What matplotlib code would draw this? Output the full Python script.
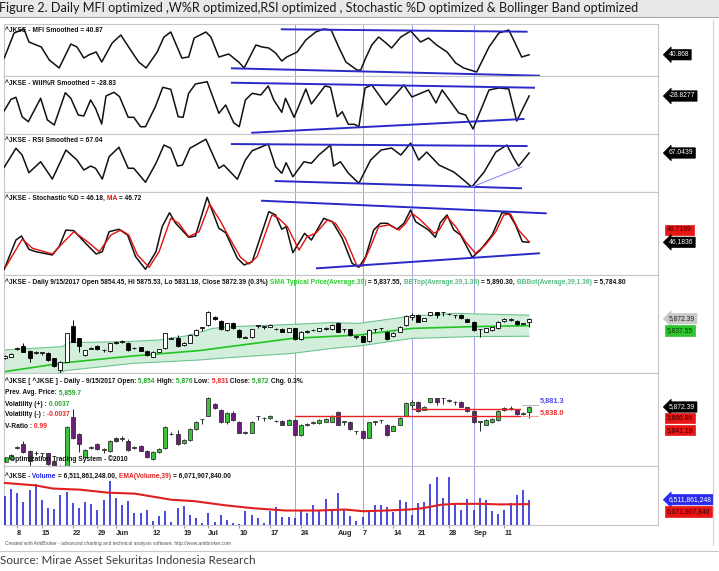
import numpy as np
import matplotlib
matplotlib.use("Agg")
import matplotlib.pyplot as plt
from matplotlib.patches import Rectangle

# ---------------- data ----------------
bar_idx = np.arange(2, 88)   # trading days, 4 May .. 15 Sep 2017

opens = [5676, 5683, 5722, 5736, 5713, 5703, 5703, 5703, 5674, 5616,
         5658, 5836, 5774, 5691, 5722, 5736, 5716, 5711, 5758, 5757,
         5749, 5724, 5729, 5713, 5683, 5708, 5724, 5773, 5774, 5741,
         5753, 5791, 5828, 5841, 5883, 5863, 5816, 5849, 5816, 5778,
         5779, 5838, 5833, 5833, 5820, 5821, 5808, 5824, 5769, 5807,
         5815, 5813, 5819, 5819, 5853, 5819, 5819, 5783, 5786, 5761,
         5819, 5824, 5808, 5786, 5808, 5841, 5879, 5891, 5863, 5891,
         5904, 5904, 5895, 5891, 5891, 5871, 5858, 5819, 5808, 5816,
         5824, 5861, 5868, 5861, 5848, 5854.45]
highs = [5690, 5699, 5730, 5749, 5716, 5710, 5704, 5705, 5678, 5662,
         5803, 5866, 5778, 5718, 5729, 5740, 5722, 5753, 5762, 5766,
         5755, 5730, 5733, 5716, 5712, 5722, 5803, 5780, 5790, 5756,
         5795, 5820, 5830, 5910, 5886, 5866, 5853, 5858, 5820, 5784,
         5823, 5840, 5835, 5844, 5826, 5824, 5827, 5827, 5812, 5814,
         5822, 5827, 5831, 5844, 5856, 5821, 5822, 5785, 5790, 5819,
         5821, 5826, 5811, 5806, 5836, 5889, 5899, 5894, 5877, 5907,
         5907, 5906, 5900, 5893, 5894, 5874, 5861, 5821, 5827, 5832,
         5861, 5874, 5876, 5864, 5853, 5875.53]
lows = [5672, 5681, 5718, 5705, 5658, 5698, 5690, 5662, 5630, 5608,
        5655, 5755, 5708, 5688, 5720, 5716, 5705, 5708, 5745, 5750,
        5712, 5720, 5710, 5688, 5680, 5705, 5720, 5770, 5732, 5738,
        5750, 5788, 5812, 5838, 5866, 5815, 5812, 5821, 5776, 5774,
        5776, 5825, 5820, 5830, 5817, 5805, 5805, 5768, 5766, 5802,
        5810, 5810, 5816, 5816, 5805, 5808, 5788, 5772, 5755, 5758,
        5808, 5814, 5765, 5783, 5805, 5838, 5866, 5855, 5860, 5888,
        5878, 5885, 5892, 5878, 5871, 5855, 5813, 5783, 5805, 5813,
        5821, 5858, 5862, 5843, 5845, 5831.18]
closes = [5686, 5696, 5725, 5708, 5674, 5705, 5703, 5666, 5636, 5658,
          5799, 5758, 5736, 5716, 5725, 5719, 5718, 5749, 5749, 5759,
          5716, 5725, 5713, 5691, 5708, 5719, 5799, 5775, 5736, 5753,
          5791, 5816, 5828, 5904, 5869, 5819, 5849, 5824, 5779, 5780,
          5819, 5838, 5833, 5841, 5822, 5808, 5824, 5771, 5808, 5809,
          5817, 5824, 5828, 5841, 5808, 5819, 5791, 5783, 5758, 5816,
          5819, 5824, 5769, 5803, 5833, 5886, 5891, 5858, 5874, 5904,
          5891, 5904, 5897, 5891, 5874, 5858, 5816, 5819, 5824, 5829,
          5858, 5869, 5870, 5846, 5850, 5872.39]

# volume, billions of shares
volumes = [6.88, 7.63, 7.19, 6.27, 7.46, 8.07, 6.44, 5.70, 5.60, 7.02,
           7.29, 6.21, 5.70, 6.27, 6.04, 5.53, 6.44, 8.40, 6.71, 5.94,
           6.37, 5.16, 5.16, 5.50, 4.35, 4.85, 5.36, 4.25, 5.70, 5.87,
           4.99, 4.65, 4.14, 5.16, 4.25, 4.99, 4.48, 4.14, 4.08, 5.43,
           4.99, 4.68, 4.14, 5.43, 5.77, 4.82, 4.82, 4.68, 5.36, 5.19,
           6.00, 5.53, 6.61, 5.60, 7.22, 5.50, 4.85, 4.41, 4.75, 5.26,
           5.94, 6.00, 5.83, 5.26, 6.51, 6.27, 5.02, 6.17, 6.27, 8.07,
           8.74, 6.71, 8.81, 6.10, 5.50, 6.61, 5.50, 6.71, 6.44, 5.43,
           5.09, 5.50, 6.21, 7.02, 7.46, 6.5119]
ema_x = [1.8, 6.8, 9.8, 14.2, 18.7, 23.1, 29.0, 32.7, 37.9, 42.3, 47.5,
         52.7, 57.1, 60.1, 63.8, 67.5, 69.7, 72.6, 74.9, 79.3, 82.3, 87.0]
ema_v = [8.20, 7.96, 7.63, 7.52, 7.22, 7.12, 6.51, 6.37, 5.94, 5.66, 5.43,
         5.43, 5.53, 5.36, 5.43, 5.53, 5.66, 6.00, 6.10, 6.10, 6.04, 6.0719]

# bollinger bands (39, 1.36)
bb_up_x = [2, 11.3, 12.4, 21.6, 27, 31.3, 33.5, 35.6, 38.9, 48.6, 55, 59.4, 68, 75, 87]
bb_up_v = [5716, 5733, 5753, 5758, 5766, 5786, 5803, 5824, 5833, 5844, 5853, 5849, 5886, 5899, 5890.30]
bb_lo_x = [2, 11.9, 22.7, 33.5, 38.9, 48.6, 55, 59.4, 68, 78, 87]
bb_lo_v = [5512, 5613, 5649, 5666, 5679, 5699, 5724, 5736, 5774, 5783, 5784.80]
bb_mid_x = [2, 11.9, 22.7, 33.5, 48.6, 59.4, 68, 78, 87]
bb_mid_v = [5608, 5653, 5686, 5713, 5774, 5791, 5824, 5833, 5837.55]

mfi_x = [1.9, 3.5, 5.1, 5.9, 7.9, 9.2, 10.8, 12.7, 13.7, 14.8, 15.6, 16.8, 17.7,
         19.4, 20.8, 22.6, 23.7, 24.9, 26.7, 27.8, 28.9, 30.7, 31.8, 32.7, 34.6,
         35.4, 36.7, 38.3, 39.9, 40.8, 42.7, 43.7, 44.8, 45.9, 46.9, 47.7, 49.4,
         50.8, 52.4, 53.7, 54.9, 56.2, 57.3, 59.1, 59.7, 60.5, 61.5, 62.6, 63.8,
         64.7, 66.2, 67.8, 69.4, 70.7, 72.0, 73.7, 75.1, 76.4, 78.5, 80.5, 82.1,
         83.7, 84.5, 85.8, 87.0]
mfi_v = [34.6, 82.7, 90.4, 65.4, 55.8, 30.8, 15.4, 61.5, 55.8, 34.6, 40.4, 46.2, 26.9,
         63.5, 78.8, 46.2, 26.9, 15.4, 46.2, 75.0, 84.6, 34.6, 36.5, 73.1, 84.6,
         75.0, 36.5, 42.3, 26.9, 15.4, 59.6, 55.8, 53.8, 44.2, 28.8, 36.5, 46.2,
         69.2, 84.6, 90.4, 88.5, 53.8, 26.9, 11.5, 11.5, 34.6, 59.6, 75.0, 63.5,
         53.8, 75.0, 86.5, 65.4, 73.1, 59.6, 46.2, 25.0, 15.4, 7.7, 55.8, 82.7,
         88.5, 69.2, 36.5, 40.87]

wr_x = [1.9, 3.0, 3.8, 4.8, 5.8, 7.8, 8.9, 10.0, 11.8, 12.7, 13.9, 14.8, 15.9,
        16.7, 17.7, 18.4, 19.7, 20.6, 22.0, 22.9, 24.0, 24.8, 26.4, 27.6, 28.9,
        30.1, 30.9, 31.8, 32.9, 34.8, 36.7, 37.8, 39.1, 40.0, 41.0, 42.1, 43.5,
        44.7, 45.6, 46.9, 47.5, 48.9, 50.8, 51.7, 53.9, 54.8, 55.9, 56.7, 57.7,
        58.7, 59.4, 60.4, 61.5, 63.8, 66.7, 68.0, 70.7, 71.9, 72.9, 75.6, 76.7,
        77.9, 80.5, 82.1, 83.7, 85.0, 87.0]
wr_v = [-50.9, -33.8, -30.8, -59.9, -67.4, -32.3, -64.8, -72.3, -23.9, -32.3, -57.3,
        -58.8, -34.8, -47.3, -70.8, -28.8, -23.3, -29.9, -60.8, -60.8, -74.9, -74.9,
        -44.9, -15.8, -18.8, -59.9, -60.8, -24.8, -10.8, -7.4, -54.8, -42.3, -68.9,
        -74.9, -34.8, -24.8, -27.3, -13.8, -34.8, -53.3, -32.3, -60.8, -18.3, -40.8,
        -13.8, -15.8, -59.9, -52.4, -71.3, -71.3, -74.9, -16.8, -12.3, -42.3, -12.3,
        -30.3, -19.8, -39.3, -19.8, -54.3, -57.3, -78.3, -19.8, -16.8, -18.3, -66.3,
        -28.83]

rsi_x = [1.9, 3.8, 4.8, 5.9, 7.8, 9.7, 11.9, 13.7, 14.8, 15.9, 16.7, 17.8, 18.9,
         20.5, 22.0, 22.9, 24.8, 26.5, 27.8, 28.9, 30.0, 30.8, 32.0, 34.6, 36.7,
         37.5, 39.7, 41.0, 42.1, 44.7, 45.9, 46.9, 47.6, 48.7, 50.5, 51.7, 52.9,
         54.8, 55.3, 56.4, 57.7, 59.4, 61.3, 63.0, 64.7, 66.2, 67.8, 69.1, 70.4,
         72.4, 74.8, 76.4, 77.7, 79.7, 81.6, 83.4, 84.5, 85.3, 87.0]
rsi_v = [54.2, 71.3, 65.2, 49.3, 59.2, 43.6, 69.7, 60.7, 51.7, 55.3, 53.3, 43.6, 63.7,
         72.2, 53.3, 53.3, 40.7, 57.8, 74.2, 71.3, 55.3, 56.2, 71.3, 79.4, 53.3,
         56.2, 43.4, 60.7, 69.1, 75.1, 54.7, 48.8, 58.3, 45.7, 59.2, 57.8, 65.2,
         74.2, 55.3, 59.2, 48.8, 39.8, 60.7, 69.7, 71.5, 65.2, 76.0, 60.7, 67.9,
         56.2, 49.9, 42.7, 36.4, 49.9, 67.9, 74.2, 62.5, 55.3, 67.04]

sto_x = [1.9, 3.8, 4.7, 5.9, 7.0, 9.7, 10.8, 11.9, 13.2, 15.1, 16.8, 17.8, 18.9,
         20.5, 21.9, 23.2, 24.8, 26.5, 27.5, 28.7, 29.7, 31.8, 32.9, 34.8, 36.7,
         37.8, 39.7, 40.8, 42.1, 44.8, 45.9, 46.9, 47.6, 48.7, 50.6, 51.7, 53.7,
         55.1, 56.7, 58.3, 59.4, 60.5, 61.8, 62.9, 64.0, 65.6, 66.7, 67.8, 68.6,
         70.7, 71.8, 72.6, 73.7, 74.8, 75.9, 77.8, 79.1, 81.0, 82.6, 83.7, 84.8,
         85.9, 87.0]
sto_v = [14.9, 48.9, 53.5, 38.1, 35.3, 31.5, 41.1, 60.4, 59.6, 45.0, 32.6, 35.3, 58.5,
         61.3, 54.6, 29.5, 14.9, 35.3, 64.3, 80.5, 68.2, 52.0, 53.5, 98.4, 62.4,
         57.3, 27.6, 19.9, 23.7, 81.7, 77.9, 61.3, 64.3, 34.1, 56.6, 48.8, 74.0,
         70.1, 50.8, 21.8, 17.2, 29.5, 60.4, 68.2, 68.2, 61.3, 68.2, 83.7, 70.1,
         60.4, 52.0, 68.9, 77.9, 60.4, 54.6, 28.8, 37.2, 54.6, 80.5, 79.8, 66.3,
         46.9, 46.18]
ma_x = [2.1, 4.8, 6.5, 9.7, 11.6, 13.2, 15.4, 17.3, 19.2, 20.8, 22.1, 23.5, 25.4,
        27.0, 28.9, 30.2, 31.8, 33.5, 35.2, 37.0, 38.3, 40.2, 41.6, 42.9, 45.3,
        46.4, 47.8, 49.7, 51.0, 52.4, 54.3, 55.6, 57.2, 59.1, 59.9, 61.3, 62.6,
        64.3, 65.9, 67.0, 68.0, 69.1, 71.6, 72.4, 73.7, 75.1, 76.7, 78.3, 79.9,
        81.6, 82.9, 84.0, 85.3, 87.0]
ma_v = [17.2, 49.7, 39.2, 32.6, 46.9, 58.5, 46.9, 35.3, 54.6, 60.4, 54.6, 31.4, 17.2,
        35.3, 74.0, 68.2, 52.7, 58.5, 90.6, 70.1, 52.7, 28.8, 21.0, 29.5, 77.9,
        74.0, 64.3, 37.2, 52.7, 56.6, 72.0, 68.2, 50.8, 18.7, 18.7, 41.1, 64.3,
        66.3, 60.4, 68.2, 79.8, 74.0, 56.6, 60.4, 75.9, 64.3, 46.9, 33.4, 43.0,
        58.5, 77.9, 79.0, 60.4, 46.72]

# hand drawn trend lines (x in bars, y in indicator units)
mfi_tl = [([46.9, 86.6], [89.8, 85.2]), ([38.8, 88.6], [14.8, 0.6])]
wr_tl = [([38.8, 87.8], [-8.9, -16.4]), ([42.1, 86.1], [-83.9, -63.3])]
rsi_tl = [([38.8, 86.6], [75.1, 73.3]), ([45.9, 85.7], [41.8, 35.3])]
rsi_thin = ([77.7, 85.8], [36.4, 54.4])
sto_tl = [([43.7, 89.7], [94.4, 79.8]), ([52.6, 88.6], [16.0, 33.4])]

opt_levels = [5866.86, 5841.18]
opt_start = [68, 49]
opt_end = 85.5

vline_idx = [49, 60, 68, 78]
tick_pos = [4, 8, 13, 17, 20, 26, 31, 35, 40, 45, 50, 56, 60, 65, 69, 74, 78, 83]
tick_lbl = ['8', '15', '22', '29', 'Jun', '12', '19', 'Jul', '10', '17', '24',
            'Aug', '7', '14', '21', '28', 'Sep', '11']

# ---------------- layout ----------------
W, H = 719, 571
XMIN, XMAX = 1.86, 107.9
FONT = ['Liberation Sans', 'DejaVu Sans']
HDR = 4.8
TL = '#2a2ac8'

fig = plt.figure(figsize=(W / 100, H / 100), dpi=100)
fig.patch.set_facecolor('white')


def fx(x):
    return x / W


def fy(y):
    return 1 - y / H


def panel(y0, y1, ylim):
    ax = fig.add_axes([fx(4), fy(y1), fx(658 - 4), (y1 - y0) / H])
    ax.set_xlim(XMIN, XMAX)
    ax.set_ylim(*ylim)
    ax.set_xticks([])
    ax.set_yticks([])
    for s in ax.spines.values():
        s.set_color('#c6c6c6')
        s.set_linewidth(0.8)
    for v in vline_idx:
        ax.axvline(v, color='#a0a0f2', lw=0.7, zorder=1)
    return ax


def tag(ax, val, text, fc, tc, dy=0, arrow=True):
    ax.annotate(text, xy=(1, val), xycoords=ax.get_yaxis_transform(),
                xytext=(11 if arrow else 9, dy), textcoords='offset pixels',
                ha='left', va='center', fontsize=4.9, family=FONT, color=tc,
                bbox=dict(boxstyle=('larrow,pad=0.25' if arrow else 'square,pad=0.25'),
                          fc=fc, ec=fc, lw=0.5),
                annotation_clip=False)


def rich(x, y, parts, size=HDR):
    r = fig.canvas.get_renderer()
    for s, c in parts:
        t = fig.text(fx(x), fy(y), s, color=c, fontsize=size, fontweight='bold',
                     family=FONT, ha='left', va='center')
        x += t.get_window_extent(renderer=r).width


def candles(ax, up_fc, dn_fc, edge, body_ec):
    for i, o, h, l, c in zip(bar_idx, opens, highs, lows, closes):
        ax.vlines(i, l, h, color=edge, lw=0.7, zorder=3)
        b0, b1 = min(o, c), max(o, c)
        ax.add_patch(Rectangle((i - 0.32, b0), 0.64, max(b1 - b0, 0.6),
                               fc=up_fc if c >= o else dn_fc, ec=body_ec,
                               lw=0.6, zorder=4))


# title band
fig.patches.append(Rectangle((0, fy(16.5)), 1, 16.5 / H, transform=fig.transFigure,
                             fc='#e9e9e9', ec='none'))
fig.lines.append(plt.Line2D([0, 1], [fy(16.8)] * 2, transform=fig.transFigure,
                            color='#a8a8a8', lw=0.8))
fig.text(fx(-1), fy(8.5), 'Figure 2. Daily MFI optimized ,W%R optimized,RSI optimized , '
         'Stochastic %D optimized & Bollinger Band optimized',
         fontsize=9.1, family=['Lato', 'DejaVu Sans'], color='#1a1a1a',
         ha='left', va='center')
fig.lines.append(plt.Line2D([fx(713)] * 2, [fy(20), fy(545)], transform=fig.transFigure,
                            color='#d4d4d4', lw=0.8))

# ---- MFI
ax = panel(24, 76, (0, 100))
ax.plot(mfi_x, mfi_v, color='#111111', lw=1.1, zorder=3)
for xs, ys in mfi_tl:
    ax.plot(xs, ys, color=TL, lw=1.4, zorder=4)
tag(ax, 40.868, '40.868', 'black', 'white')
rich(5, 30.5, [('^JKSE - MFI Smoothed = 40.87', '#111111')])

# ---- Williams %R
ax = panel(76, 134, (-85.83, 1.17))
ax.plot(wr_x, wr_v, color='#111111', lw=1.1, zorder=3)
for xs, ys in wr_tl:
    ax.plot(xs, ys, color=TL, lw=1.4, zorder=4)
tag(ax, -28.8277, '-28.8277', 'black', 'white')
rich(5, 83.5, [('^JKSE - Will%R Smoothed = -28.83', '#111111')])

# ---- RSI
ax = panel(134, 192, (31.94, 84.14))
ax.plot(rsi_x, rsi_v, color='#111111', lw=1.1, zorder=3)
for xs, ys in rsi_tl:
    ax.plot(xs, ys, color=TL, lw=1.4, zorder=4)
ax.plot(*rsi_thin, color='#8c8cf0', lw=0.8, zorder=4)
tag(ax, 67.0439, '67.0439', 'black', 'white')
rich(5, 140.5, [('^JKSE - RSI Smoothed = 67.04', '#111111')])

# ---- Stochastic
ax = panel(192, 275, (8.25, 104.53))
ax.plot(sto_x, sto_v, color='#111111', lw=1.1, zorder=3)
ax.plot(ma_x, ma_v, color='#e01010', lw=1.0, zorder=3)
for xs, ys in sto_tl:
    ax.plot(xs, ys, color=TL, lw=1.4, zorder=4)
tag(ax, 46.7199, '46.7199', '#e81515', '#3a0000', dy=12, arrow=False)
tag(ax, 46.1836, '46.1836', 'black', 'white')
rich(5, 198, [('^JKSE - Stochastic %D = 46.18,', '#111111'), (' MA', '#e01010'),
              (' = 46.72', '#111111')])

# ---- Price with Bollinger bands
ax = panel(275, 373, (5601, 6091))
ax.fill(np.r_[bb_up_x, bb_lo_x[::-1]], np.r_[bb_up_v, bb_lo_v[::-1]],
        fc='#d3efdc', ec='none', zorder=1.5)
ax.plot(bb_up_x, bb_up_v, color='#6cc48e', lw=0.8, zorder=2)
ax.plot(bb_lo_x, bb_lo_v, color='#6cc48e', lw=0.8, zorder=2)
ax.plot(bb_mid_x, bb_mid_v, color='#22c322', lw=1.2, zorder=2)
candles(ax, 'white', 'black', 'black', 'black')
tag(ax, 5872.39, '5,872.39', '#c8c8c8', '#222222')
tag(ax, 5837.55, '5,837.55', '#2fc42f', '#063a06', dy=-5, arrow=False)
rich(5, 282, [('^JKSE - Daily 9/15/2017 Open 5854.45, Hi 5875.53, Lo 5831.18, '
               'Close 5872.39 (0.3%)', '#111111'),
              (' SMA Typical Price(Average,39)', '#2ecc2e'), (' = 5,837.55,', '#111111'),
              (' BBTop(Average,39,1.36)', '#55bb80'), (' = 5,890.30,', '#111111'),
              (' BBBot(Average,39,1.36)', '#55bb80'), (' = 5,784.80', '#111111')])

# ---- Optimization Trading System panel
ax = panel(373, 466, (5657, 5996.5))
candles(ax, '#3dc43d', '#6a1f78', '#222222', '#333333')
for lv, x0 in zip(opt_levels, opt_start):
    ax.plot([x0, opt_end], [lv, lv], color='#e82020', lw=1.0, zorder=5)
ax.plot([85.8, 88.4], [5881.3, 5881.3], color='#b8b8c8', lw=0.8, zorder=5)
ax.plot([85.8, 88.4], [5838.0, 5838.0], color='#f4a0a0', lw=0.8, zorder=5)
ax.text(88.8, 5881.3, '5,881.3', color='#4a4af0', fontsize=5.2, family=FONT,
        fontweight='bold', ha='left', va='bottom')
ax.text(88.8, 5838.0, '5,838.0', color='#ee3030', fontsize=5.2, family=FONT,
        fontweight='bold', ha='left', va='bottom')
tag(ax, 5872.39, '5,872.39', 'black', 'white')
tag(ax, 5866.86, '5,866.86', '#e81515', '#3a0000', dy=-9.5, arrow=False)
tag(ax, 5841.18, '5,841.18', '#e81515', '#3a0000', dy=-14.5, arrow=False)
G, R, K = '#22a822', '#ee2222', '#111111'
rich(5, 381.5, [('^JKSE [ ^JKSE ] - Daily - 9/15/2017 Open:', K), (' 5,854', G),
                (' High:', K), (' 5,876', G), (' Low:', K), (' 5,831', R),
                (' Close:', K), (' 5,872', G), (' Chg. 0.3%', K)])
rich(5, 393, [('Prev. Avg. Price:', K), (' 5,859.7', G)])
rich(5, 404, [('Volatility (+) :', K), (' 0.0037', G)])
rich(5, 415, [('Volatility (-) :', K), (' -0.0037', R)])
rich(5, 426, [('V-Ratio :', K), (' 0.99', R)])
fig.patches.append(Rectangle((fx(4.5), fy(462)), 3 / W, 5 / H, transform=fig.transFigure,
                             fc='#3dc43d', ec='#222222', lw=0.4))
rich(10, 459.5, [('Optimization Trading System - \u00a92010', K)])

# ---- Volume
ax = panel(466, 525, (3.98, 9.89))
ax.vlines(bar_idx, ax.get_ylim()[0], volumes, color='#2b2bd8', lw=1.2, zorder=3)
ax.plot(ema_x, ema_v, color='#e02020', lw=1.5, zorder=4)
tag(ax, 6.5119, '6,511,861,248', '#2b2bf0', 'white')
tag(ax, 6.0719, '6,071,907,840', '#e81515', '#3a0000', dy=-7.5, arrow=False)
rich(5, 476, [('^JKSE -', K), (' Volume', '#2222ee'), (' = 6,511,861,248.00,', K),
              (' EMA(Volume,39)', '#e02020'), (' = 6,071,907,840.00', K)])
ax.set_xticks(tick_pos)
ax.set_xticklabels(tick_lbl, fontsize=5.3, fontweight='bold', family=FONT,
                   color='#222222', ha='left')
ax.tick_params(axis='x', length=2, pad=1.5, color='#999999')

# footer
fig.text(fx(5), fy(543), 'Created with AmiBroker - advanced charting and technical analysis '
         'software. http://www.amibroker.com', fontsize=3.5, family=FONT,
         color='#555555', ha='left', va='center')
fig.lines.append(plt.Line2D([0, 1], [fy(551)] * 2, transform=fig.transFigure,
                            color='#c8c8c8', lw=0.8))
fig.text(fx(0), fy(561), 'Source: Mirae Asset Sekuritas Indonesia Research',
         fontsize=8.4, family=['Lato', 'DejaVu Sans'], color='#3a3a3a',
         ha='left', va='center')

fig.savefig('out.png', dpi=100)
